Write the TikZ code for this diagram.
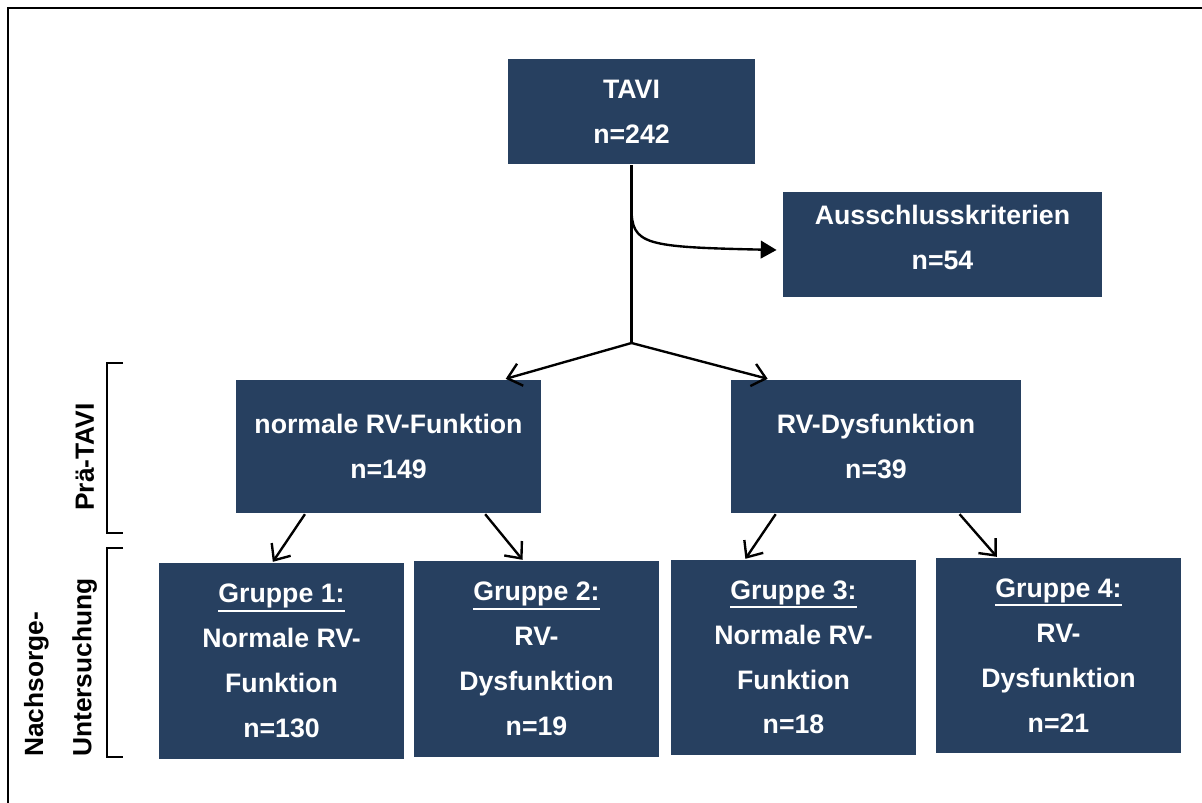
\documentclass[tikz,border=0pt]{standalone}
\usepackage{fontspec}
\setmainfont{Liberation Sans}
\usetikzlibrary{arrows.meta}
\definecolor{boxblue}{RGB}{39,64,96}
\newcommand{\grp}[1]{\leavevmode\vtop{\hbox{#1}\kern0.6pt\hrule height 1.1pt}}
\tikzset{>={Straight Barb[length=7.5pt,width=13pt]},
         box/.style 2 args={fill=boxblue, text=white, align=center, inner sep=0pt,
           minimum width=#1, minimum height=#2,
           font=\fontsize{15.2}{25.5}\selectfont\bfseries},
         side/.style={rotate=90, align=left, inner sep=0pt,
           font=\fontsize{15}{27.5}\selectfont\bfseries}}

\begin{document}
\begin{tikzpicture}[x=0.02cm, y=-0.02cm, line width=1.35pt]
  \useasboundingbox (0,0) rectangle (1202,803);
  \draw[line width=1.4pt] (8,803) -- (8,8) -- (1202,8);

  \node[box={4.94cm}{2.1cm}] (T) at (631.5,111.5) {TAVI\\n=242};
  \node[box={6.38cm}{2.1cm}, text depth=8pt] (A) at (942.5,244.5) {Ausschlusskriterien\\n=54};

  \node[box={6.1cm}{2.66cm}] (N) at (388.5,446.5) {normale RV-Funktion\\n=149};
  \node[box={5.8cm}{2.66cm}] (D) at (876,446.5) {RV-Dysfunktion\\n=39};

  \node[box={4.9cm}{3.92cm}] (G1) at (281.5,661) {\grp{Gruppe 1:}\\Normale RV-\\Funktion\\n=130};
  \node[box={4.9cm}{3.92cm}] (G2) at (536.5,659) {\grp{Gruppe 2:}\\RV-\\Dysfunktion\\n=19};
  \node[box={4.9cm}{3.9cm}] (G3) at (793.5,657.5) {\grp{Gruppe 3:}\\Normale RV-\\Funktion\\n=18};
  \node[box={4.9cm}{3.9cm}] (G4) at (1058.5,655.5) {\grp{Gruppe 4:}\\RV-\\Dysfunktion\\n=21};

  \coordinate (K) at (631.5,208);
  \coordinate (J) at (631.5,343);
  \draw (T.south) -- (J);
  \draw[-{Triangle[length=9pt,width=10pt]}, shorten >=3pt] (K) .. controls (631.5,245) and (645,247) .. (A.182);
  \draw[->] (J) -- (N.30);
  \draw[->] (J) -- (D.148);

  \draw[->] (N.-141) -- (G1.95);
  \draw[->] (N.-35) -- (G2.98);
  \draw[->] (D.-146) -- (G3.116);
  \draw[->] (D.-39) -- (G4.122);

  % phases
  \draw[line width=0.8pt] (123,363) -- (107,363) -- (107,533) -- (123,533);
  \draw[line width=0.8pt] (123,548) -- (107,548) -- (107,757) -- (123,757);
  \node[side] (P) at (85,457) {Prä-TAVI};
  \node[side, anchor=west] (U) at (60.5,758) {Nachsorge-\\Untersuchung};

\end{tikzpicture}
\end{document}
